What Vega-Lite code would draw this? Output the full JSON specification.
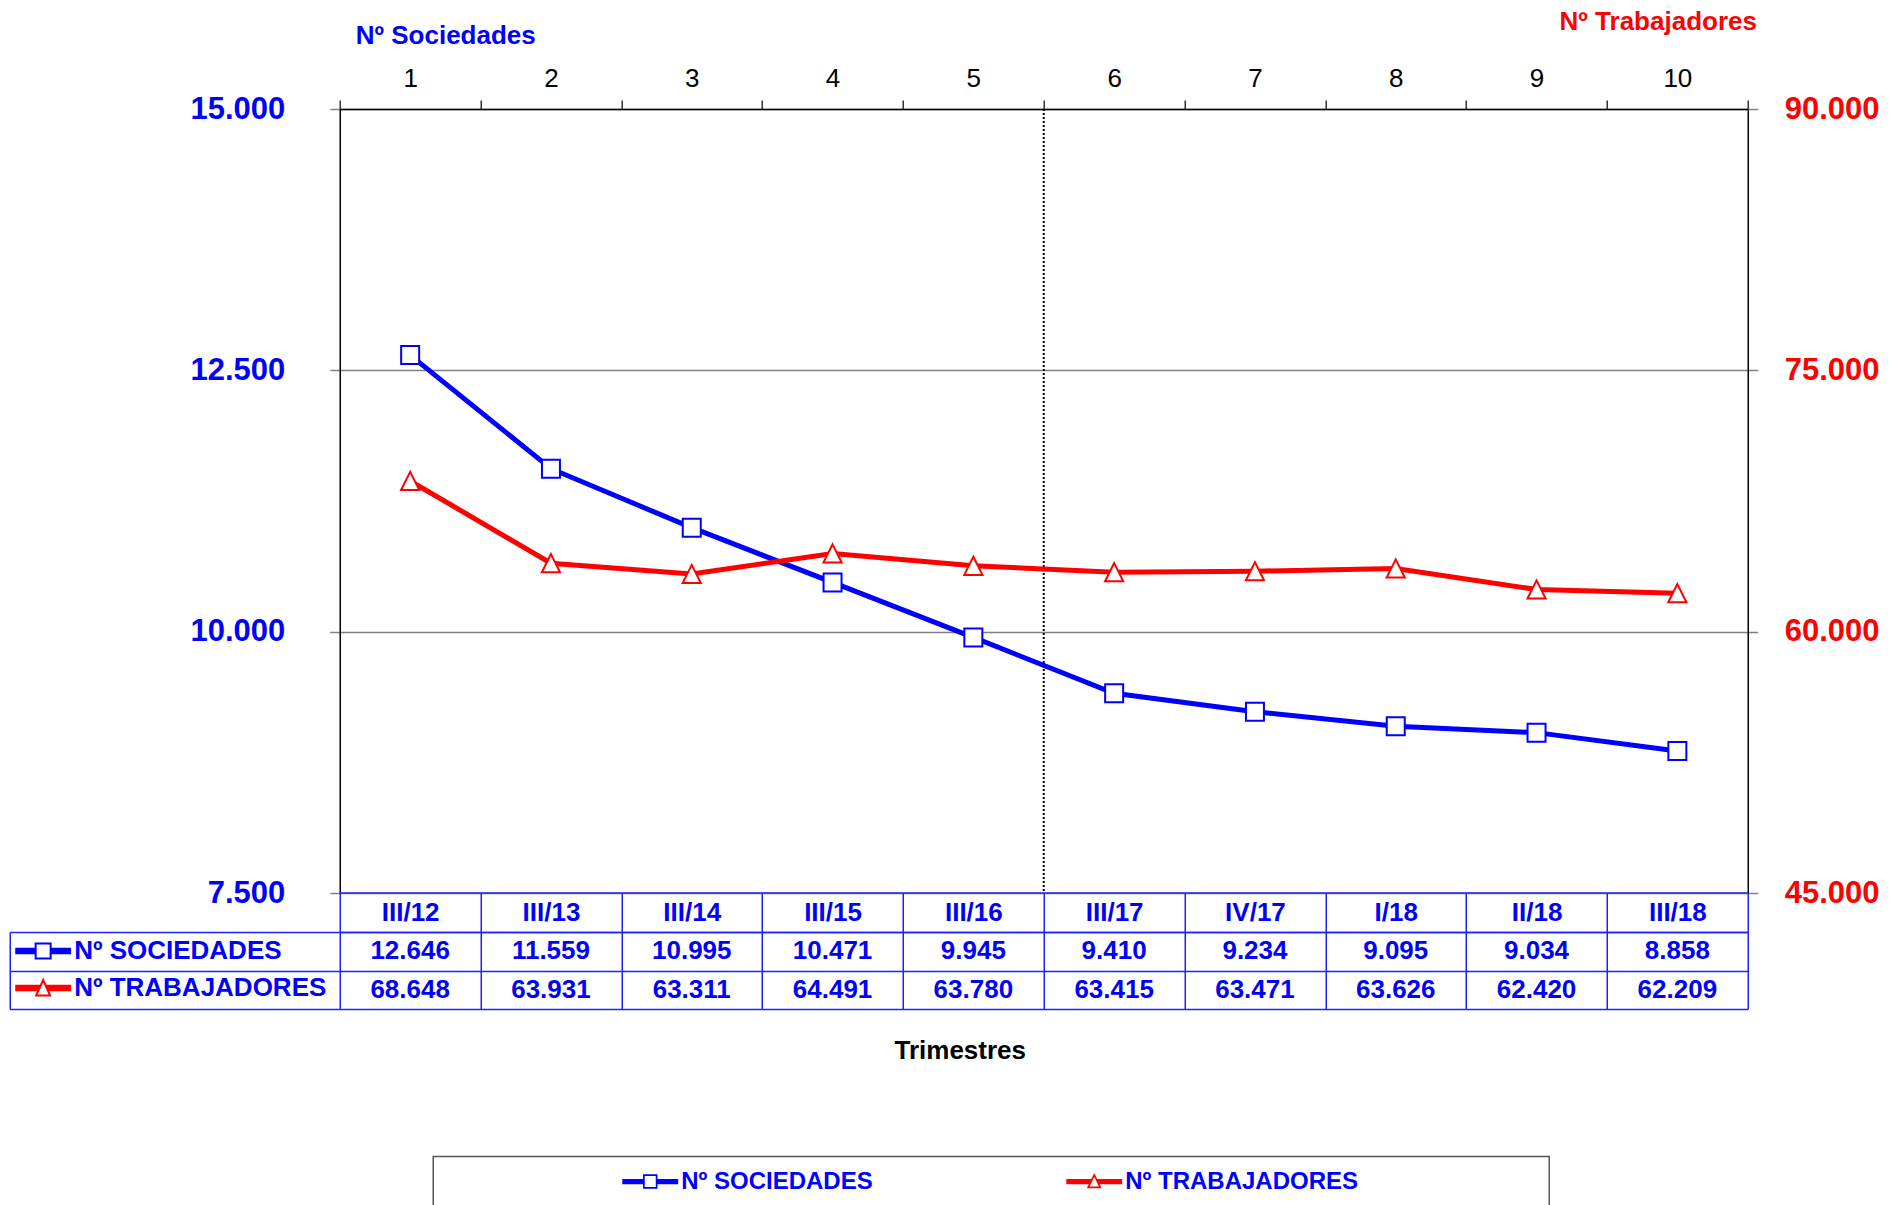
{
  "$schema": "https://vega.github.io/schema/vega-lite/v6.json",
  "padding": {"left": 8.75, "top": 8, "right": 0, "bottom": 0},
  "autosize": {"type": "pad"},
  "background": "white",
  "config": {
    "font": "Liberation Sans",
    "view": {"stroke": null},
    "locale": {"number": {"decimal": ",", "thousands": ".", "grouping": [3], "currency": ["", " €"]}},
    "axis": {"labelFont": "Liberation Sans", "titleFont": "Liberation Sans"},
    "legend": {"labelFont": "Liberation Sans", "titleFont": "Liberation Sans"}
  },
  "datasets": {
    "d": [
      {"n": 1, "q": "III/12", "serie": "Nº SOCIEDADES", "valor": 12646},
      {"n": 2, "q": "III/13", "serie": "Nº SOCIEDADES", "valor": 11559},
      {"n": 3, "q": "III/14", "serie": "Nº SOCIEDADES", "valor": 10995},
      {"n": 4, "q": "III/15", "serie": "Nº SOCIEDADES", "valor": 10471},
      {"n": 5, "q": "III/16", "serie": "Nº SOCIEDADES", "valor": 9945},
      {"n": 6, "q": "III/17", "serie": "Nº SOCIEDADES", "valor": 9410},
      {"n": 7, "q": "IV/17", "serie": "Nº SOCIEDADES", "valor": 9234},
      {"n": 8, "q": "I/18", "serie": "Nº SOCIEDADES", "valor": 9095},
      {"n": 9, "q": "II/18", "serie": "Nº SOCIEDADES", "valor": 9034},
      {"n": 10, "q": "III/18", "serie": "Nº SOCIEDADES", "valor": 8858},
      {"n": 1, "q": "III/12", "serie": "Nº TRABAJADORES", "valor": 68648},
      {"n": 2, "q": "III/13", "serie": "Nº TRABAJADORES", "valor": 63931},
      {"n": 3, "q": "III/14", "serie": "Nº TRABAJADORES", "valor": 63311},
      {"n": 4, "q": "III/15", "serie": "Nº TRABAJADORES", "valor": 64491},
      {"n": 5, "q": "III/16", "serie": "Nº TRABAJADORES", "valor": 63780},
      {"n": 6, "q": "III/17", "serie": "Nº TRABAJADORES", "valor": 63415},
      {"n": 7, "q": "IV/17", "serie": "Nº TRABAJADORES", "valor": 63471},
      {"n": 8, "q": "I/18", "serie": "Nº TRABAJADORES", "valor": 63626},
      {"n": 9, "q": "II/18", "serie": "Nº TRABAJADORES", "valor": 62420},
      {"n": 10, "q": "III/18", "serie": "Nº TRABAJADORES", "valor": 62209}
    ]
  },
  "spacing": 39,
  "bounds": "flush",
  "resolve": {
    "scale": {"fill": "independent", "shape": "independent"},
    "legend": {"fill": "independent", "shape": "independent"}
  },
  "vconcat": [
    {
      "width": 1408,
      "height": 784,
      "data": {"name": "d"},
      "resolve": {"scale": {"y": "independent"}},
      "layer": [
        {
          "data": {"values": [{"n": 6}]},
          "mark": {"type": "rule", "color": "black", "strokeWidth": 2, "strokeDash": [2, 2]},
          "encoding": {
            "x": {"field": "n", "type": "ordinal", "bandPosition": 0, "scale": {"type": "band", "paddingInner": 0, "paddingOuter": 0}}
          }
        },
        {
          "transform": [{"filter": "datum.serie === 'Nº SOCIEDADES'"}],
          "layer": [
            {
              "mark": {"type": "line", "color": "#0000ff", "strokeWidth": 5},
              "encoding": {
                "x": {
                  "field": "n", "type": "ordinal",
                  "scale": {"type": "band", "paddingInner": 0, "paddingOuter": 0},
                  "axis": {
                    "orient": "top", "title": null, "labelAngle": 0, "labelAlign": "center", "labelFontSize": 26, "labelColor": "black",
                    "labelBaseline": "middle", "labelPadding": 22, "tickBand": "extent", "tickSize": 9,
                    "tickColor": "#333333", "tickWidth": 1.5, "domainColor": "black", "domainWidth": 1.5, "grid": false
                  }
                },
                "y": {
                  "field": "valor", "type": "quantitative",
                  "scale": {"domain": [7500, 15000], "nice": false, "zero": false},
                  "axis": {
                    "orient": "left", "values": [7500, 10000, 12500, 15000], "format": ",d", "labelFlush": false,
                    "labelFontSize": 31, "labelFontWeight": "bold", "labelColor": "#0000ff", "labelPadding": 45,
                    "tickSize": 10, "tickColor": "#808080", "tickWidth": 1.5,
                    "domainColor": "black", "domainWidth": 1.5,
                    "grid": true, "gridColor": "#808080", "gridWidth": 1.5,
                    "title": "Nº Sociedades", "titleAngle": 0, "titleX": 105.5, "titleY": -74,
                    "titleAlign": "center", "titleBaseline": "middle", "titleFontSize": 26,
                    "titleFontWeight": "bold", "titleColor": "#0000ff"
                  }
                }
              }
            },
            {
              "mark": {"type": "point", "shape": "square", "size": 324, "filled": true, "fill": "white", "stroke": "#0000ff", "strokeWidth": 2, "opacity": 1},
              "encoding": {
                "x": {"field": "n", "type": "ordinal"},
                "y": {"field": "valor", "type": "quantitative"}
              }
            },
            {
              "data": {"values": [{}]},
              "mark": {"type": "rule", "color": "#2020ff", "strokeWidth": 1.5},
              "encoding": {"y": {"datum": 7500, "type": "quantitative"}}
            }
          ]
        },
        {
          "transform": [{"filter": "datum.serie === 'Nº TRABAJADORES'"}],
          "layer": [
            {
              "mark": {"type": "line", "color": "#ff0000", "strokeWidth": 5},
              "encoding": {
                "x": {"field": "n", "type": "ordinal"},
                "y": {
                  "field": "valor", "type": "quantitative",
                  "scale": {"domain": [45000, 90000], "nice": false, "zero": false},
                  "axis": {
                    "orient": "right", "values": [45000, 60000, 75000, 90000], "format": ",d", "labelFlush": false,
                    "labelFontSize": 31, "labelFontWeight": "bold", "labelColor": "#ff0000", "labelPadding": 26.5,
                    "tickSize": 10, "tickColor": "#808080", "tickWidth": 1.5,
                    "domainColor": "black", "domainWidth": 1.5, "grid": false,
                    "title": "Nº Trabajadores", "titleAngle": 0, "titleX": -90, "titleY": -87.2,
                    "titleAlign": "center", "titleBaseline": "middle", "titleFontSize": 26,
                    "titleFontWeight": "bold", "titleColor": "#ff0000"
                  }
                }
              }
            },
            {
              "mark": {"type": "point", "shape": "M0,-1L1,1L-1,1Z", "size": 330, "filled": true, "fill": "white", "stroke": "#ff0000", "strokeWidth": 2, "opacity": 1},
              "encoding": {
                "x": {"field": "n", "type": "ordinal"},
                "y": {"field": "valor", "type": "quantitative"}
              }
            }
          ]
        },
        {
          "mark": {"type": "point", "filled": true, "opacity": 0},
          "encoding": {
            "x": {"field": "n", "type": "ordinal"},
            "fill": {
              "field": "serie", "type": "nominal",
              "scale": {"domain": ["Nº SOCIEDADES", "Nº TRABAJADORES"], "range": ["#0000ff", "#ff0000"]},
              "legend": {
                "orient": "none", "legendX": 93.5, "legendY": 1047.5, "direction": "horizontal",
                "title": " ", "titleOrient": "left", "titleFontSize": 1, "titlePadding": 192,
                "padding": 6, "strokeColor": "#555555",
                "symbolSize": 1444, "symbolStrokeWidth": 0, "symbolOpacity": 1, "labelOffset": 12,
                "labelFontSize": 24, "labelFontWeight": "bold", "labelColor": "#0000ff", "labelLimit": 800,
                "labelBaseline": "middle", "columnPadding": 193,
                "encode": {"legend": {"update": {"strokeWidth": {"value": 1.5}}}}
              }
            },
            "shape": {
              "field": "serie", "type": "nominal",
              "scale": {
                "domain": ["Nº SOCIEDADES", "Nº TRABAJADORES"],
                "range": [
                  "M-1.47,-0.14H-0.38V0.14H-1.47Z M0.38,-0.14H1.47V0.14H0.38Z M-0.38,-0.38H0.38V0.38H-0.38Z M-0.29,-0.29V0.29H0.29V-0.29Z M0,1.15L0,1.15Z",
                  "M-1.47,-0.14L-0.151,-0.14L-0.288,0.14L-1.47,0.14Z M0.151,-0.14L1.47,-0.14L1.47,0.14L0.288,0.14Z M0,-0.45L0.39,0.35L-0.39,0.35Z M0,-0.245L-0.246,0.26L0.246,0.26Z M23.63,1.15L23.63,1.15Z"
                ]
              },
              "legend": {
                "orient": "none", "legendX": 93.5, "legendY": 1047.5, "direction": "horizontal",
                "title": " ", "titleOrient": "left", "titleFontSize": 1, "titlePadding": 192,
                "padding": 6, "strokeColor": "#555555",
                "symbolSize": 1444, "symbolStrokeWidth": 0, "symbolOpacity": 1, "labelOffset": 12,
                "labelFontSize": 24, "labelFontWeight": "bold", "labelColor": "#0000ff", "labelLimit": 800,
                "labelBaseline": "middle", "columnPadding": 193
              }
            }
          }
        }
      ]
    },
    {
      "width": 1408,
      "height": 77,
      "data": {"name": "d"},
      "title": {
        "text": "Trimestres", "orient": "bottom", "anchor": "middle", "frame": "group",
        "dx": -83.5, "offset": 28, "fontSize": 26, "fontWeight": "bold", "color": "black", "font": "Liberation Sans"
      },
      "resolve": {"axis": {"y": "independent"}},
      "layer": [
        {
          "mark": {"type": "text", "fontSize": 26, "fontWeight": "bold", "color": "#0000ff", "baseline": "middle", "align": "center"},
          "encoding": {
            "x": {
              "field": "q", "type": "nominal", "sort": {"field": "n", "op": "min"},
              "scale": {"type": "band", "paddingInner": 0, "paddingOuter": 0},
              "axis": {
                "orient": "top", "title": null, "labelAngle": 0, "labelAlign": "center", "labelFontSize": 26, "labelFontWeight": "bold",
                "labelColor": "#0000ff", "labelBaseline": "middle", "labelPadding": -19.5,
                "tickBand": "extent", "tickSize": 39, "tickColor": "#2020ff", "tickWidth": 1.5,
                "domainColor": "#2020ff", "domainWidth": 1.5,
                "grid": true, "gridColor": "#2020ff", "gridWidth": 1.5
              }
            },
            "y": {
              "field": "serie", "type": "nominal",
              "scale": {"type": "band", "paddingInner": 0, "paddingOuter": 0},
              "axis": {
                "orient": "left", "title": null, "labels": false, "tickBand": "extent", "tickSize": 330,
                "tickColor": "#2020ff", "tickWidth": 1.5, "domain": false,
                "grid": true, "gridColor": "#2020ff", "gridWidth": 1.5
              }
            },
            "text": {"field": "valor", "type": "quantitative", "format": ",d"}
          }
        },
        {
          "mark": {"type": "point", "filled": true, "opacity": 0},
          "encoding": {
            "x": {"field": "q", "type": "nominal", "sort": {"field": "n", "op": "min"}},
            "y": {
              "field": "serie", "type": "nominal",
              "axis": {
                "orient": "left", "offset": 330, "title": null, "labels": false, "ticks": false, "grid": false,
                "domain": true, "domainColor": "#2020ff", "domainWidth": 1.5
              }
            },
            "fill": {
              "field": "serie", "type": "nominal",
              "scale": {"domain": ["Nº SOCIEDADES", "Nº TRABAJADORES"], "range": ["#0000ff", "#ff0000"]},
              "legend": {
                "orient": "none", "legendX": -315.6, "legendY": 0, "direction": "vertical", "title": null,
                "padding": 0, "symbolSize": 1444, "symbolStrokeWidth": 0, "symbolOpacity": 1, "labelOffset": 12,
                "labelFontSize": 26, "labelFontWeight": "bold", "labelColor": "#0000ff", "labelLimit": 500,
                "labelBaseline": "middle", "rowPadding": 5
              }
            },
            "shape": {
              "field": "serie", "type": "nominal",
              "scale": {
                "domain": ["Nº SOCIEDADES", "Nº TRABAJADORES"],
                "range": [
                  "M-1.47,-0.17H-0.447V0.17H-1.47Z M0.447,-0.17H1.47V0.17H0.447Z M-0.447,-0.447H0.447V0.447H-0.447Z M-0.342,-0.342V0.342H0.342V-0.342Z",
                  "M-1.47,-0.17L-0.17,-0.17L-0.322,0.17L-1.47,0.17Z M0.17,-0.17L1.47,-0.17L1.47,0.17L0.322,0.17Z M0,-0.55L0.447,0.45L-0.447,0.45Z M0,-0.293L-0.285,0.345L0.285,0.345Z"
                ]
              },
              "legend": {
                "orient": "none", "legendX": -315.6, "legendY": 0, "direction": "vertical", "title": null,
                "padding": 0, "symbolSize": 1444, "symbolStrokeWidth": 0, "symbolOpacity": 1, "labelOffset": 12,
                "labelFontSize": 26, "labelFontWeight": "bold", "labelColor": "#0000ff", "labelLimit": 500,
                "labelBaseline": "middle", "rowPadding": 5
              }
            }
          }
        }
      ]
    }
  ]
}
